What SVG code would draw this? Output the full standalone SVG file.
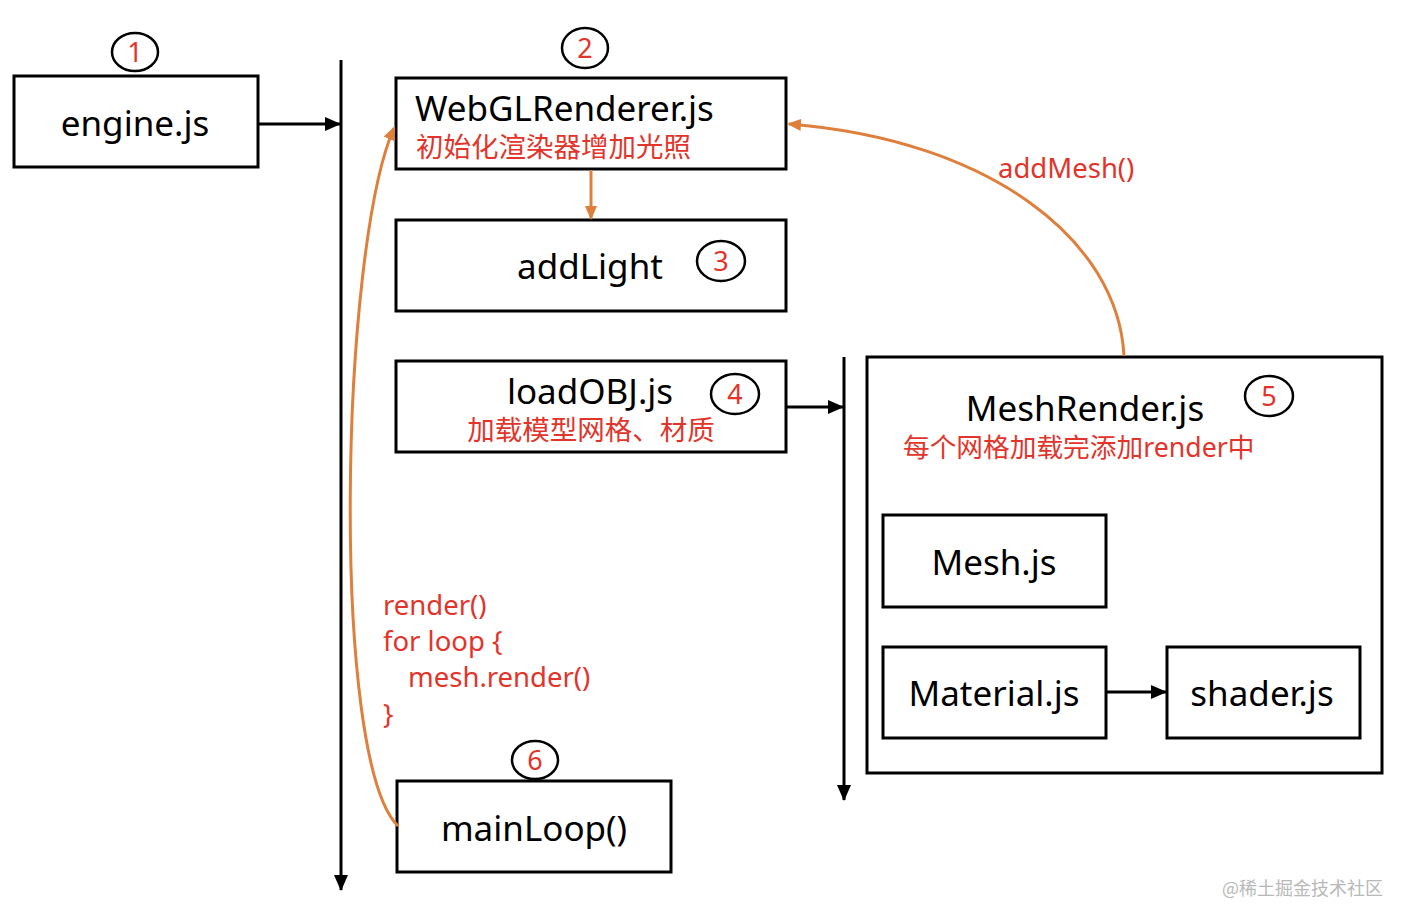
<svg xmlns="http://www.w3.org/2000/svg" width="1408" height="924" viewBox="0 0 1408 924">
<style>
.box{fill:#fff;stroke:#000;stroke-width:3}
.num{fill:#fff;stroke:#000;stroke-width:2.5}
.t{font-family:"Noto Sans","Noto Sans CJK SC",sans-serif;font-size:35px;fill:#000}
.r{font-family:"Noto Sans","Noto Sans CJK SC",sans-serif;font-size:27.5px;fill:#e2342a}
.k{font-family:"Noto Sans","Noto Sans CJK SC",sans-serif;font-size:27.5px;fill:#e2342a}
.n{font-family:"Noto Sans","Noto Sans CJK SC",sans-serif;font-size:27px;fill:#e2342a;text-anchor:middle}
.c{text-anchor:middle}
.bl{stroke:#000;stroke-width:3;fill:none}
.or{stroke:#df7f3c;stroke-width:3;fill:none}
</style>
<defs>
<marker id="ao" markerWidth="14" markerHeight="14" refX="12" refY="7" orient="auto" markerUnits="userSpaceOnUse" viewBox="0 0 14 14"><path d="M0,1 L14,7 L0,13 z" fill="#df7f3c"/></marker>
<marker id="abig" markerWidth="16" markerHeight="16" refX="15" refY="8" orient="auto" markerUnits="userSpaceOnUse" viewBox="0 0 16 16"><path d="M0,1 L16,8 L0,15 z" fill="#000"/></marker>
</defs>
<rect width="1408" height="924" fill="#fff"/>
<g id="n1">
<rect class="box" x="14" y="76" width="244" height="91"/>
<text class="t c" x="135" y="136">engine.js</text>
<ellipse class="num" cx="135" cy="52" rx="23" ry="19"/>
<text class="n" x="135" y="62">1</text>
</g>
<g id="n2">
<rect class="box" x="396" y="78" width="390" height="91"/>
<text class="t" x="415" y="121">WebGLRenderer.js</text>
<text class="r" x="416" y="157">初始化渲染器增加光照</text>
<ellipse class="num" cx="585" cy="48" rx="23" ry="20"/>
<text class="n" x="585" y="58">2</text>
</g>
<g id="n3">
<rect class="box" x="396" y="220" width="390" height="91"/>
<text class="t c" x="590" y="279">addLight</text>
<ellipse class="num" cx="721" cy="261" rx="24" ry="20"/>
<text class="n" x="721" y="271">3</text>
</g>
<g id="n4">
<rect class="box" x="396" y="361" width="390" height="91"/>
<text class="t c" x="590" y="404">loadOBJ.js</text>
<text class="r c" x="591" y="440">加载模型网格、材质</text>
<ellipse class="num" cx="735" cy="394" rx="24" ry="20"/>
<text class="n" x="735" y="404">4</text>
</g>
<g id="n5">
<rect class="box" x="867" y="357" width="515" height="416"/>
<text class="t c" x="1085" y="421">MeshRender.js</text>
<text class="r" x="903" y="457" style="font-size:26.7px">每个网格加载完添加render中</text>
<ellipse class="num" cx="1269" cy="396" rx="24" ry="20"/>
<text class="n" x="1269" y="406">5</text>
</g>
<g id="mesh">
<rect class="box" x="883" y="515" width="223" height="92"/>
<text class="t c" x="994" y="575">Mesh.js</text>
</g>
<g id="material">
<rect class="box" x="883" y="647" width="223" height="91"/>
<text class="t c" x="994" y="706">Material.js</text>
</g>
<g id="shader">
<rect class="box" x="1167" y="647" width="193" height="91"/>
<text class="t c" x="1262" y="706">shader.js</text>
</g>
<g id="n6">
<rect class="box" x="397" y="781" width="274" height="91"/>
<text class="t c" x="534" y="841">mainLoop()</text>
<ellipse class="num" cx="535" cy="760" rx="23" ry="19"/>
<text class="n" x="535" y="770">6</text>
</g>
<g id="connectors">
<line class="bl" x1="258" y1="124" x2="340" y2="124" marker-end="url(#abig)"/>
<line class="bl" x1="341" y1="60" x2="341" y2="890" marker-end="url(#abig)"/>
<line class="bl" x1="844" y1="357" x2="844" y2="800" marker-end="url(#abig)"/>
<line class="bl" x1="786" y1="407" x2="843" y2="407" marker-end="url(#abig)"/>
<line class="bl" x1="1107" y1="692" x2="1166" y2="692" marker-end="url(#abig)"/>
<line class="or" x1="591" y1="170" x2="591" y2="218" marker-end="url(#ao)"/>
<path class="or" d="M1124,356 C1118,240 990,140 789,124" marker-end="url(#ao)"/>
<path class="or" d="M398,826 C330,760 340,250 394,128" marker-end="url(#ao)"/>
<text class="k" x="998" y="178">addMesh()</text>
<text class="k" x="383" y="615">render()</text>
<text class="k" x="383" y="651">for loop {</text>
<text class="k" x="408" y="687">mesh.render()</text>
<text class="k" x="383" y="724">}</text>
</g>
<text x="1383" y="895" text-anchor="end" font-family="Noto Sans CJK SC, sans-serif" font-size="18" fill="#b8b8b8">@稀土掘金技术社区</text>
</svg>
